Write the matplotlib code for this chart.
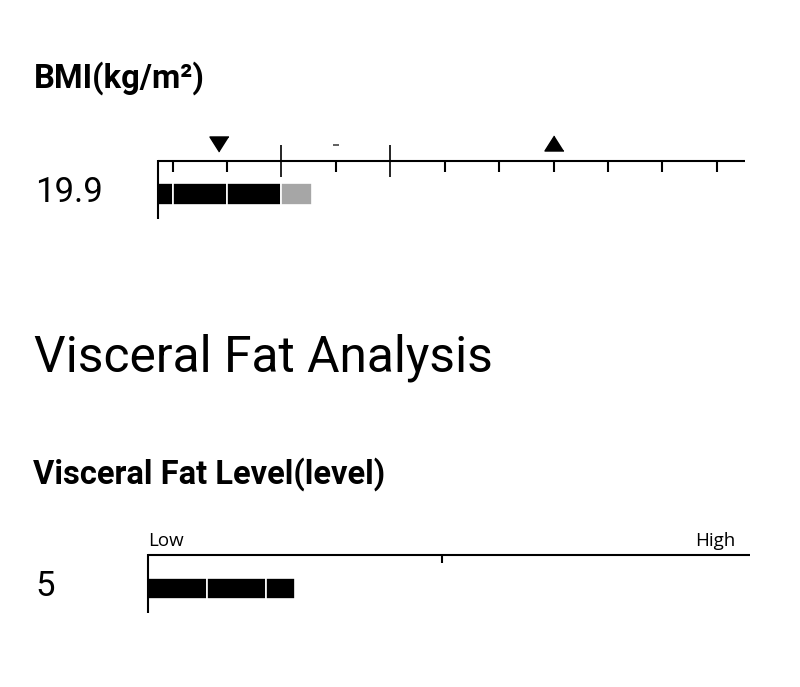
import numpy as np
import matplotlib
matplotlib.use('Agg')
import matplotlib.pyplot as plt

# BMI gauge data
bmi_ticks = [10, 15, 18.5, 21, 25, 30, 35, 40, 45, 50, 55]
bmi_normal = [18.5, 25]
bmi_value = 19.9
bmi_low_marker = 14.3
bmi_high_marker = 40
bmi_dash = 21

# Visceral fat gauge data
vfl_value = 5
vfl_mid = 10
vfl_step = 2
vfl_max = 20.48

W, H = 800, 687
plt.rcParams['font.family'] = ['Roboto', 'DejaVu Sans']

fig = plt.figure(figsize=(W / 100, H / 100), dpi=100)


def fx(px):
    return px / W


def fy(py):
    return 1 - py / H


def idx(v):
    # piecewise-linear BMI scale, each tick gets equal spacing
    return np.interp(v, bmi_ticks, np.arange(len(bmi_ticks)))


small = ['Open Sans', 'DejaVu Sans']

# ---- texts ----
fig.text(fx(34), fy(88), 'BMI(kg/m²)', fontsize=23.6, fontweight='bold', va='baseline')
fig.text(fx(35), fy(202), f'{bmi_value}', fontsize=25, va='baseline')
fig.text(fx(34), fy(372), 'Visceral Fat Analysis', fontsize=35.8, va='baseline')
fig.text(fx(33), fy(484), 'Visceral Fat Level(level)', fontsize=23.5, fontweight='bold', va='baseline')
fig.text(fx(35), fy(596), f'{vfl_value}', fontsize=25, va='baseline')
fig.text(fx(148), fy(545.5), 'Low', fontsize=13.5, va='baseline', family=small)
fig.text(fx(735), fy(545.5), 'High', fontsize=13.5, va='baseline', ha='right', family=small)

lw = 1.5

# ---- BMI gauge ----
ax = fig.add_axes([fx(158), fy(222), fx(745) - fx(158), (222 - 130) / H])
x0, x1 = -0.27, 10.52
ax.set_xlim(x0, x1)
ax.set_ylim(222, 130)
ax.set_axis_off()

ax.plot([x0, x1], [160.5, 160.5], color='black', lw=lw, clip_on=False, solid_capstyle='butt')
ax.plot([x0, x0], [160, 219], color='black', lw=lw, clip_on=False, solid_capstyle='butt')
for t in bmi_ticks:
    if t in bmi_normal:
        ax.plot([idx(t)] * 2, [145, 177], color='black', lw=1.2, solid_capstyle='butt')
    else:
        ax.plot([idx(t)] * 2, [160, 172], color='black', lw=1.5, solid_capstyle='butt')

# bar: black segments up to the lower normal bound, grey beyond
edges = [x0] + [idx(t) for t in bmi_ticks if t <= bmi_normal[0]]
for a, b in zip(edges[:-1], edges[1:]):
    ax.barh(194, b - a, left=a, height=22, color='black', edgecolor='white', linewidth=1.2)
ax.barh(194, idx(bmi_value) - idx(bmi_normal[0]), left=idx(bmi_normal[0]), height=22,
        color='#a6a6a6', edgecolor='white', linewidth=1.2)

tri_down = [(0, -0.79), (-1, 0.79), (1, 0.79)]
tri_up = [(0, 0.79), (-1, -0.79), (1, -0.79)]
ax.plot(idx(bmi_low_marker), 144, marker=tri_down, ms=13.7, color='black', clip_on=False)
ax.plot(idx(bmi_high_marker), 143, marker=tri_up, ms=13.7, color='black', clip_on=False)
ax.plot(idx(bmi_dash), 145, marker='_', ms=4, mew=1.2, color='#444444')

# ---- Visceral fat gauge ----
ax2 = fig.add_axes([fx(148), fy(620), fx(750) - fx(148), (620 - 520) / H])
ax2.set_xlim(0, vfl_max)
ax2.set_ylim(620, 520)
ax2.set_axis_off()

ax2.plot([0, vfl_max], [554.5, 554.5], color='black', lw=lw, clip_on=False, solid_capstyle='butt')
ax2.plot([0, 0], [554, 613], color='black', lw=lw, clip_on=False, solid_capstyle='butt')
ax2.plot([vfl_mid] * 2, [554, 563], color='black', lw=1.5, solid_capstyle='butt')

bounds = list(np.arange(0, vfl_value, vfl_step)) + [vfl_value]
for a, b in zip(bounds[:-1], bounds[1:]):
    ax2.barh(588, b - a, left=a, height=21, color='black', edgecolor='white', linewidth=1.2)

fig.savefig('out.png', dpi=100, facecolor='white')
